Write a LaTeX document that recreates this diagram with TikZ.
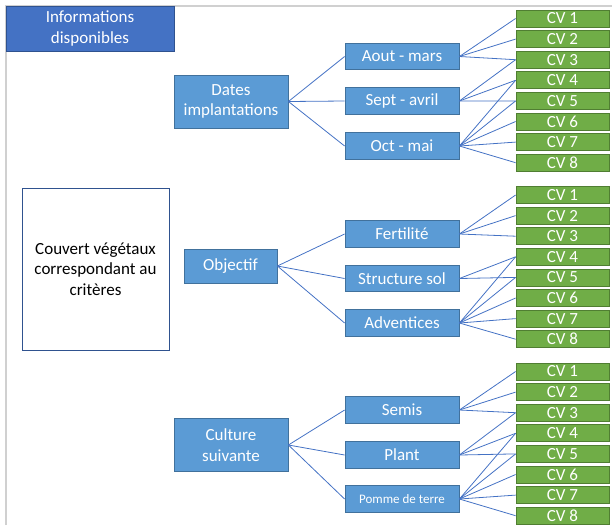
\documentclass[tikz,border=0pt]{standalone}
\usepackage{fontspec}
\setmainfont{Carlito}
\usetikzlibrary{positioning}

\definecolor{bleuclair}{HTML}{5B9BD5}
\definecolor{bleubord}{HTML}{41719C}
\definecolor{bleufonce}{HTML}{4472C4}
\definecolor{bleufoncebord}{HTML}{2F528F}
\definecolor{vert}{HTML}{70AD47}
\definecolor{vertbord}{HTML}{507E32}
\definecolor{cadre}{HTML}{D0D0D0}

\begin{document}
\begin{tikzpicture}[
            x=1pt, y=-1pt,
            every node/.style={font=\fontsize{17}{20.5}\selectfont, align=center, inner sep=0pt},
            titre/.style={draw=bleufoncebord, line width=0.8pt, fill=bleufonce, text=white, minimum width=168pt, minimum height=45pt},
            resultat/.style={draw=bleufoncebord, line width=0.8pt, fill=white, minimum width=147pt, minimum height=162pt},
            parent/.style={draw=bleubord, line width=0.8pt, fill=bleuclair, text=white, minimum width=114pt, minimum height=53pt},
            moyen/.style={draw=bleubord, line width=0.8pt, fill=bleuclair, text=white, minimum width=114pt, minimum height=26.5pt},
            cv/.style={draw=vertbord, line width=0.8pt, fill=vert, text=white, minimum width=93pt, minimum height=17pt},
            lien/.style={draw=bleufonce, line width=0.8pt},
        ]
            \useasboundingbox (0,0) rectangle (612,525);
            \def\pas{20.6};
            % Draw the frame
            \draw[cadre, line width=1.2pt] (6,525) -- (6,6) -- (612,6);

            % Draw the left nodes
            \node[titre] (info) at (90,28.5) {Informations\\disponibles};
            \node[resultat] (couvert) at (95.5,269) {Couvert végétaux\\correspondant au\\critères};

            % Draw the criteria nodes
            \node[parent] (P-1) at (231,101.5) {Dates\\implantations};
            \node[parent, minimum width=93pt, minimum height=34pt] (P-2) at (230.5,266) {Objectif};
            \node[parent] (P-3) at (231,445) {Culture\\suivante};

            % Draw the choice nodes
            \foreach \nom / \g / \i / \y in {Aout - mars/1/1/56.5, Sept - avril/1/2/101, Oct - mai/1/3/146,
                    Fertilité/2/1/234, Structure sol/2/2/278.5, Adventices/2/3/323,
                    Semis/3/1/410, Plant/3/2/455}
                \node[moyen] (M-\g-\i) at (402,\y) {\nom};
            \node[moyen, font=\fontsize{13}{15}\selectfont] (M-3-3) at (402,499) {Pomme de terre};

            % Draw the CV nodes
            \foreach \g / \y in {1/18.5, 2/195, 3/371.5}
                \foreach \i in {1,...,8}
                    \node[cv] (CV-\g-\i) at (562.5,\y+\i*\pas-\pas) {CV \i};

            % Connect every criterion with its choices
            \foreach \g in {1,2,3}
                \foreach \i in {1,2,3}
                    \path (P-\g.east) edge[lien] (M-\g-\i.west);

            % Connect the choices with the CV
            \foreach \g in {1,2,3} {
                \foreach \dest in {1,2,3}
                    \path (M-\g-1.east) edge[lien] (CV-\g-\dest.west);
                \foreach \dest in {4,...,8}
                    \path (M-\g-3.east) edge[lien] (CV-\g-\dest.west);
            }
            \foreach \g in {1,3}
                \foreach \dest in {3,4,5}
                    \path (M-\g-2.east) edge[lien] (CV-\g-\dest.west);
            \foreach \dest in {4,5}
                \path (M-2-2.east) edge[lien] (CV-2-\dest.west);
        \end{tikzpicture}
\end{document}
